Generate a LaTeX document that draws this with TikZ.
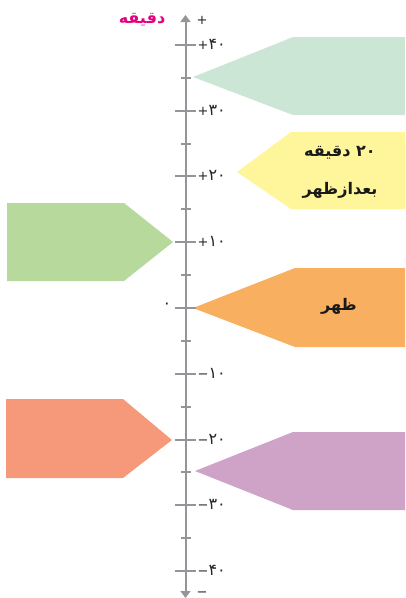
\documentclass[tikz,border=0pt]{standalone}
\usepackage{fontspec}
\newfontfamily\arabicfont[Script=Arabic]{DejaVu Sans}
\newfontfamily\numfont{DejaVu Sans}
\TeXXeTstate=1
\usetikzlibrary{arrows.meta}
\definecolor{axisgray}{HTML}{939598}
\definecolor{mintc}{HTML}{CCE6D5}
\definecolor{yelc}{HTML}{FFF59B}
\definecolor{orangec}{HTML}{F9AF60}
\definecolor{purplec}{HTML}{CFA2C8}
\definecolor{lgreenc}{HTML}{B7D99B}
\definecolor{salmonc}{HTML}{F6997A}
\definecolor{magc}{HTML}{E5007E}
\newcommand{\tnum}[2]{{\fontsize{13}{15}\selectfont #1}{\fontsize{16}{18}\selectfont #2}}
\tikzset{
  axisline/.style={draw=axisgray, line width=2pt},
  majortick/.style={draw=axisgray, line width=1.6pt},
  minortick/.style={draw=axisgray, line width=1.6pt},
  ticklabel/.style={font=\numfont\fontsize{13}{15}\selectfont, text=black!85, inner sep=0.5pt},
  boxtext/.style={font=\arabicfont\bfseries\fontsize{16}{24}\selectfont, text=black!90, align=center},
}
\begin{document}
\begin{tikzpicture}[x=1pt,y=-1pt]
\useasboundingbox (0,0) rectangle (405,598);
% callout shapes
\fill[mintc] (193,77) -- (293,37) -- (405,37) -- (405,115) -- (293,115) -- cycle;
\fill[yelc] (237,172) -- (291,132) -- (405,132) -- (405,209) -- (291,209) -- cycle;
\fill[orangec] (193,308) -- (295,268) -- (405,268) -- (405,347) -- (295,347) -- cycle;
\fill[purplec] (195,471) -- (293,432) -- (405,432) -- (405,510) -- (293,510) -- cycle;
\fill[lgreenc] (7,203) -- (124,203) -- (173,242) -- (124,281) -- (7,281) -- cycle;
\fill[salmonc] (6,399) -- (123,399) -- (172,440) -- (123,478) -- (6,478) -- cycle;
% axis
\coordinate (axtop) at (185.5,15);
\coordinate (axbot) at (185.5,598);
\draw[axisline, {Triangle[length=7pt,width=10pt]}-{Triangle[length=7pt,width=10pt]}] (axbot) -- (axtop);
% ticks
\foreach \y in {45,111,176,242,308,374,440,505,571}{
  \draw[majortick] (175,\y) -- (196,\y);
}
\foreach \y in {78,144,209,275,341,407,472,538}{
  \draw[minortick] (181,\y) -- (191,\y);
}
% tick labels
\node[ticklabel, anchor=west] (lp40) at (197,44) {\tnum{+}{۴۰}};
\node[ticklabel, anchor=west] (lp30) at (197,110) {\tnum{+}{۳۰}};
\node[ticklabel, anchor=west] (lp20) at (197,175) {\tnum{+}{۲۰}};
\node[ticklabel, anchor=west] (lp10) at (197,241) {\tnum{+}{۱۰}};
\node[ticklabel] (l0) at (167,306) {\tnum{}{۰}};
\node[ticklabel, anchor=west] (lm10) at (197,373) {\tnum{−}{۱۰}};
\node[ticklabel, anchor=west] (lm20) at (197,439) {\tnum{−}{۲۰}};
\node[ticklabel, anchor=west] (lm30) at (197,504) {\tnum{−}{۳۰}};
\node[ticklabel, anchor=west] (lm40) at (197,570) {\tnum{−}{۴۰}};
\node[ticklabel] (lplus) at (202,20) {+};
\node[ticklabel] (lminus) at (202,594) {−};
% title
\node[font=\arabicfont\bfseries\fontsize{16}{18}\selectfont, text=magc] (title) at (142,20) {\beginR دقیقه\endR};
% box texts
\node[boxtext] (t20) at (340,153) {\beginR ۲۰ دقیقه\endR};
\node[boxtext] (t20b) at (340,190) {\beginR بعدازظهر\endR};
\node[boxtext] (tnoon) at (339,306) {\beginR ظهر\endR};
\end{tikzpicture}
\end{document}
